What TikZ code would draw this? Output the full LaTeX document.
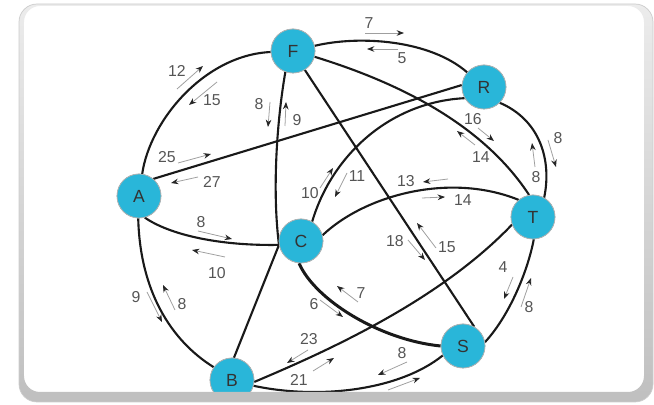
\documentclass[tikz,border=0pt]{standalone}
\usepackage{fontspec}
\setmainfont{Liberation Sans}
\usepackage{tikz}
\usetikzlibrary{arrows.meta, positioning}
\definecolor{cityblue}{RGB}{41,182,217}
\definecolor{numgray}{RGB}{85,85,85}

\begin{document}
\begin{tikzpicture}[x=0.02cm, y=-0.02cm,
    city/.style={circle, fill=cityblue, draw=gray!60, line width=0.4pt, minimum size=0.88cm, inner sep=0pt, font=\fontsize{10}{11}\selectfont, text=black!80},
    road/.style={line width=1.2pt, black!90},
    flow/.style={gray!75, line width=0.45pt, -{Stealth[length=4.2pt, width=3.2pt, color=black!85]}},
    num/.style={font=\fontsize{9}{10}\selectfont, text=numgray, inner sep=0pt}]
    \useasboundingbox (0,0) rectangle (654,405);

    \begin{scope}
    \clip[rounded corners=0.32cm] (24,6) rectangle (644,392);

    % The cities
    \node[city] (F) at (293,51) {F};
    \node[city] (R) at (484,87) {R};
    \node[city] (A) at (139,196) {A};
    \node[city] (C) at (301,241) {C};
    \node[city] (T) at (533,217) {T};
    \node[city] (S) at (463,346) {S};
    \node[city] (B) at (232,380) {B};

    % Roads between them
    \draw[road] (A) .. controls (150,120) and (205,55) .. (F);
    \draw[road] (F) .. controls (360,35) and (430,40) .. (R);
    \draw[road] (F.-15) .. controls (390,80) and (480,120) .. (T.100);
    \draw[road] (F.-58) -- (S.60);
    \draw[road] (F.-110) .. controls (277,120) and (272,190) .. (C.190);
    \draw[road] (A.50) -- (R.175);
    \draw[road] (C.60) .. controls (332,155) and (390,102) .. (R.210);
    \draw[road] (C.15) .. controls (365,195) and (450,172) .. (T.130);
    \draw[road] (A.-75) .. controls (170,235) and (220,246) .. (C.190);
    \draw[road] (A.-92) .. controls (140,290) and (170,340) .. (B.145);
    \draw[road] (B.85) -- (C.190);
    \draw[road, line width=1.7pt] (C.-95) .. controls (315,300) and (380,340) .. (S.180);
    \draw[road] (B.-5) .. controls (330,350) and (440,300) .. (T.200);
    \draw[road] (B.-15) .. controls (320,400) and (400,390) .. (S.205);
    \draw[road] (R.-45) .. controls (540,120) and (552,160) .. (T.60);
    \draw[road] (S.10) .. controls (510,315) and (528,270) .. (T.-88);

    % redraw the cities over the road ends
    \foreach \c in {F,R,A,C,T,S,B}
        \node[city] at (\c) {\c};

    % flows along each road
    % A - F
    \draw[flow] (177,89) -- (203,66);   \node[num] (nAF1) at (177,71) {12};
    \draw[flow] (217,82) -- (189,105);  \node[num] (nAF2) at (212,100) {15};
    % F - R
    \draw[flow] (365,33) -- (404,33);   \node[num] (nFR1) at (369,23) {7};
    \draw[flow] (398,49) -- (367,49);   \node[num] (nFR2) at (402,58) {5};
    % F - C
    \draw[flow] (270,102) -- (268,127); \node[num] (nFC1) at (259,104) {8};
    \draw[flow] (285,126) -- (286,102); \node[num] (nFC2) at (297,120) {9};
    % A - R
    \draw[flow] (178,163) -- (211,154); \node[num] (nAR1) at (167,157) {25};
    \draw[flow] (198,177) -- (171,183); \node[num] (nAR2) at (212,182) {27};
    % F - T
    \draw[flow] (478,128) -- (494,141); \node[num] (nFT1) at (473,119) {16};
    \draw[flow] (475,145) -- (457,131); \node[num] (nFT2) at (481,157) {14};
    % R - T
    \draw[flow] (548,140) -- (556,167); \node[num] (nRT1) at (558,138) {8};
    \draw[flow] (535,167) -- (532,143); \node[num] (nRT2) at (536,177) {8};
    % C - R
    \draw[flow] (320,188) -- (333,168); \node[num] (nCR1) at (310,193) {10};
    \draw[flow] (347,173) -- (335,197); \node[num] (nCR2) at (357,176) {11};
    % C - T
    \draw[flow] (448,179) -- (423,182); \node[num] (nCT1) at (406,181) {13};
    \draw[flow] (422,198) -- (445,197); \node[num] (nCT2) at (463,200) {14};
    % F - S
    \draw[flow] (408,240) -- (425,260); \node[num] (nFS1) at (395,241) {18};
    \draw[flow] (436,248) -- (417,223); \node[num] (nFS2) at (447,247) {15};
    % A - C
    \draw[flow] (198,231) -- (232,239); \node[num] (nAC1) at (201,222) {8};
    \draw[flow] (225,257) -- (192,250); \node[num] (nAC2) at (217,273) {10};
    % A - B
    \draw[flow] (147,292) -- (162,322); \node[num] (nAB1) at (136,297) {9};
    \draw[flow] (175,310) -- (163,285); \node[num] (nAB2) at (182,304) {8};
    % C - S
    \draw[flow] (320,300) -- (343,317); \node[num] (nCS1) at (314,304) {6};
    \draw[flow] (358,302) -- (337,286); \node[num] (nCS2) at (361,293) {7};
    % B - T
    \draw[flow] (308,350) -- (287,363); \node[num] (nBT1) at (309,339) {23};
    \draw[flow] (313,371) -- (334,358); \node[num] (nBT2) at (299,380) {21};
    % B - S
    \draw[flow] (407,362) -- (378,375); \node[num] (nBS1) at (402,353) {8};
    \draw[flow] (388,390) -- (420,378);
    % S - T
    \draw[flow] (513,277) -- (504,299); \node[num] (nST1) at (503,267) {4};
    \draw[flow] (521,307) -- (531,278); \node[num] (nST2) at (529,307) {8};
    \end{scope}

    % panel frame
    \shade[even odd rule, top color=gray!15, bottom color=gray!50]
        [rounded corners=0.36cm] (19,4) rectangle (653,402)
        [rounded corners=0.32cm] (24,6) rectangle (644,392);
    \draw[gray!40, line width=0.4pt, rounded corners=0.36cm] (19,4) rectangle (653,402);
\end{tikzpicture}
\end{document}
